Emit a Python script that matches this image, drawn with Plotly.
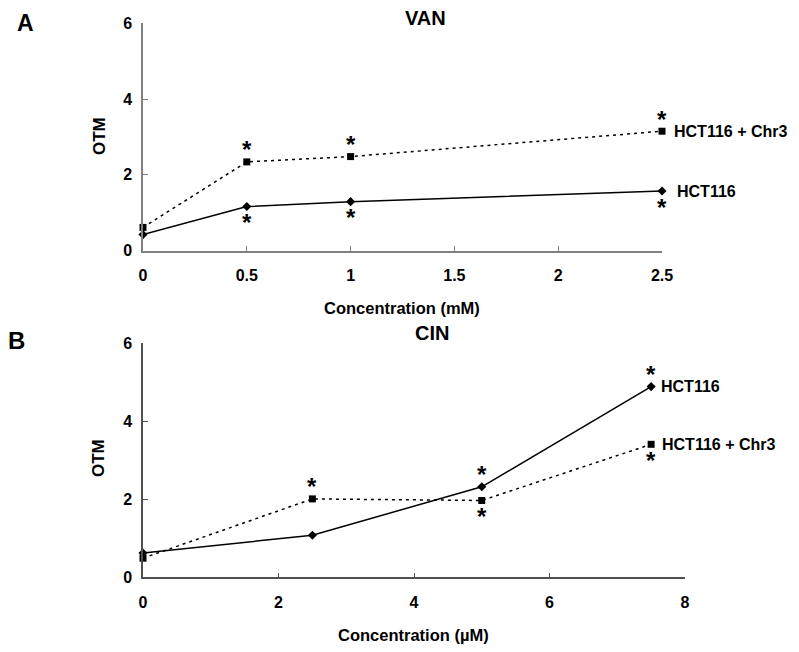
import plotly.graph_objects as go

# ---- data ----
van_conc = [0, 0.5, 1, 2.5]
van_hct116 = [0.42, 1.16, 1.29, 1.57]
van_chr3 = [0.61, 2.34, 2.48, 3.15]

cin_conc = [0, 2.5, 5, 7.5]
cin_hct116 = [0.62, 1.08, 2.32, 4.89]
cin_chr3 = [0.49, 2.01, 1.97, 3.41]

van_xticks = [0, 0.5, 1, 1.5, 2, 2.5]
van_xticklabels = ["0", "0.5", "1", "1.5", "2", "2.5"]
cin_xticks = [0, 2, 4, 6, 8]
y_ticks = [0, 2, 4, 6]

# significance marks: (series, index, position)
van_sig = [("chr3", 1, "above"), ("chr3", 2, "above"), ("chr3", 3, "above"),
           ("hct", 1, "below"), ("hct", 2, "below"), ("hct", 3, "below")]
cin_sig = [("hct", 2, "above"), ("hct", 3, "above"),
           ("chr3", 1, "above"), ("chr3", 2, "below"), ("chr3", 3, "below")]

# page is 799x652 and the browser adds an 8px body margin
OFF = 8
W, H = 799 - 2 * OFF, 652 - 2 * OFF
FONT = "Liberation Sans, Arial, sans-serif"

def px_x(p):
    return (p - OFF) / W

def px_y(p):
    return 1 - (p - OFF) / H

fig = go.Figure()

line_solid = dict(color="black", width=1.5)
line_dot = dict(color="black", width=1.5, dash="3px,4px")

def add_series(x, y, line, symbol, xa, ya):
    fig.add_trace(go.Scatter(x=x, y=y, mode="lines+markers", line=line,
                             marker=dict(symbol=symbol, size=7, color="black"),
                             xaxis=xa, yaxis=ya, showlegend=False, cliponaxis=False))

add_series(van_conc, van_chr3, line_dot, "square", "x", "y")
add_series(van_conc, van_hct116, line_solid, "diamond", "x", "y")
add_series(cin_conc, cin_chr3, line_dot, "square", "x2", "y2")
add_series(cin_conc, cin_hct116, line_solid, "diamond", "x2", "y2")

tickfont = dict(family=FONT, size=16, color="black", weight="bold")

def xaxis(dom, rng, tv, tt, color, anchor):
    return dict(domain=dom, range=rng, tickvals=tv, ticktext=tt, showline=True,
                linecolor=color, linewidth=1.5, ticks="inside", ticklen=5,
                tickcolor=color, tickwidth=1, showgrid=False, zeroline=False,
                tickfont=tickfont, ticklabelstandoff=10, fixedrange=True,
                automargin=False, anchor=anchor)

def yaxis(dom, anchor, color):
    return dict(domain=dom, range=[0, 6], tickvals=y_ticks, showline=True,
                linecolor=color, linewidth=1.5, ticks="inside", ticklen=5,
                tickcolor=color, tickwidth=1, showgrid=False, zeroline=False,
                tickfont=tickfont, ticklabelstandoff=6, anchor=anchor, fixedrange=True,
                automargin=False)

top_col = "#808080"
bot_col = "#505050"

fig.update_layout(
    width=W, height=H,
    margin=dict(l=0, r=0, t=0, b=0, pad=0),
    plot_bgcolor="white", paper_bgcolor="white",
    xaxis=xaxis([px_x(143), px_x(662)], [0, 2.5], van_xticks, van_xticklabels, top_col, "y"),
    yaxis=yaxis([px_y(250.5), px_y(23.3)], "x", top_col),
    xaxis2=xaxis([px_x(143), px_x(685)], [0, 8], cin_xticks, [str(v) for v in cin_xticks], bot_col, "y2"),
    yaxis2=yaxis([px_y(577.3), px_y(343.3)], "x2", bot_col),
)

ann = []

def text_ann(x, y, s, size, **kw):
    d = dict(x=px_x(x), y=px_y(y), xref="paper", yref="paper", text=s, showarrow=False,
             xanchor="center", yanchor="middle",
             font=dict(family=FONT, size=size, color="black"))
    d.update(kw)
    ann.append(d)

text_ann(25, OFF, "<b>A</b>", 23, yanchor="top")
text_ann(16, 340, "<b>B</b>", 24)
text_ann(425, 18, "<b>VAN</b>", 20)
text_ann(432, 333, "<b>CIN</b>", 20)
text_ann(402, 308, "<b>Concentration (mM)</b>", 16.5)
text_ann(413, 635, "<b>Concentration (µM)</b>", 16.5)
text_ann(100, 136, "<b>OTM</b>", 17, textangle=-90)
text_ann(99, 458, "<b>OTM</b>", 17, textangle=-90)

def sig(xs, hct, chr3, marks, xr, yr):
    for s, i, pos in marks:
        ys = hct if s == "hct" else chr3
        ann.append(dict(x=xs[i], y=ys[i], xref=xr, yref=yr, text="<b>*</b>", showarrow=False,
                        xanchor="center", yanchor="middle",
                        font=dict(family=FONT, size=24, color="black"),
                        yshift=12 if pos == "above" else -16))

sig(van_conc, van_hct116, van_chr3, van_sig, "x", "y")
sig(cin_conc, cin_hct116, cin_chr3, cin_sig, "x2", "y2")

def series_label(x, y, s, xr, yr, xs):
    ann.append(dict(x=x, y=y, xref=xr, yref=yr, text="<b>" + s + "</b>", showarrow=False,
                    xanchor="left", yanchor="middle", xshift=xs,
                    font=dict(family=FONT, size=16, color="black")))

series_label(van_conc[-1], van_chr3[-1], "HCT116 + Chr3", "x", "y", 10)
series_label(van_conc[-1], van_hct116[-1], "HCT116", "x", "y", 13)
series_label(cin_conc[-1], cin_hct116[-1], "HCT116", "x2", "y2", 8)
series_label(cin_conc[-1], cin_chr3[-1], "HCT116 + Chr3", "x2", "y2", 9)

fig.update_layout(annotations=ann)
fig.write_html("out.html", config=dict(displayModeBar=False))
